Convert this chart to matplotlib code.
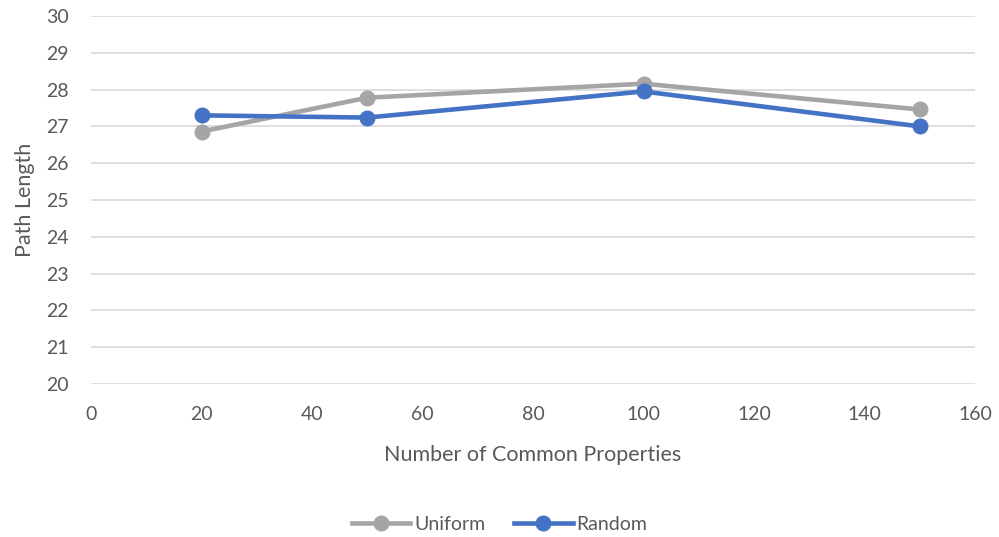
import matplotlib.pyplot as plt

plt.rcParams['font.family'] = ['Lato', 'DejaVu Sans']

properties = [20, 50, 100, 150]
uniform = [26.86, 27.78, 28.16, 27.46]
random_ = [27.30, 27.24, 27.95, 27.00]

fig = plt.figure(figsize=(9.99, 5.37), dpi=100)
ax = fig.add_axes([91 / 999, 1 - 384 / 537, (975 - 91) / 999, (384 - 16) / 537])

ax.plot(properties, uniform, color='#A5A5A5', lw=3.3, marker='o', ms=10.5, label='Uniform')
ax.plot(properties, random_, color='#4472C4', lw=3.3, marker='o', ms=10.5, label='Random')

ax.set_xlim(0, 160)
ax.set_ylim(20, 30)
ax.set_xticks(range(0, 161, 20))
ax.set_yticks(range(20, 31))
ax.grid(axis='y', color='#D9D9D9', lw=1.2)
ax.set_axisbelow(True)
for s in ax.spines.values():
    s.set_visible(False)
ax.tick_params(length=0, labelsize=14, colors='#595959')
ax.tick_params(axis='y', pad=16)
ax.tick_params(axis='x', pad=16)

ax.set_xlabel('Number of Common Properties', fontsize=15.5, color='#595959', labelpad=16)
ax.set_ylabel('Path Length', fontsize=15.5, color='#595959', labelpad=8)

leg = fig.legend(loc='lower center', bbox_to_anchor=(0.5, -0.025), ncol=2, frameon=False,
                 fontsize=14, handlelength=3, columnspacing=1.5, handletextpad=0.2)
for t in leg.get_texts():
    t.set_color('#595959')

fig.savefig('out.png')
